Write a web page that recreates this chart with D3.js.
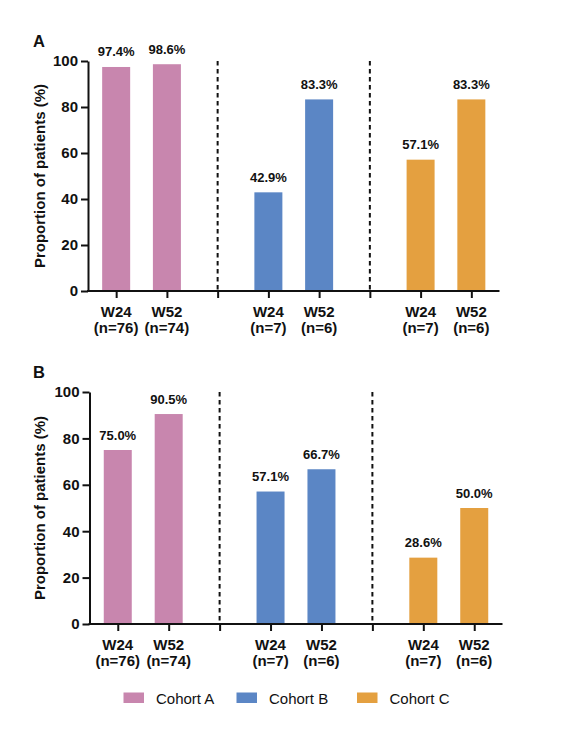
<!DOCTYPE html>
<html><head><meta charset="utf-8">
<script src="https://cdn.jsdelivr.net/npm/d3@7"></script>
<style>
body{margin:0;background:#fff;}
svg{display:block;font-family:"Liberation Sans",Arial,sans-serif;}
</style></head>
<body><svg id="c" width="567" height="737"></svg>
<script>
const cohorts = ["Cohort A","Cohort B","Cohort C"];
const colors = ["#C886AE","#5B86C5","#E4A040"];
const slots = ["A-W24","A-W52","sep1","B-W24","B-W52","sep2","C-W24","C-W52"];
const barSlots = ["A-W24","A-W52","B-W24","B-W52","C-W24","C-W52"];
const barCohort = [0,0,1,1,2,2];
const weekLabels = ["W24","W52","W24","W52","W24","W52"];
const nLabels = ["(n=76)","(n=74)","(n=7)","(n=6)","(n=7)","(n=6)"];
const panelAValues = [97.4, 98.6, 42.9, 83.3, 57.1, 83.3];
const panelBValues = [75.0, 90.5, 57.1, 66.7, 28.6, 50.0];
const yTicks = [0,20,40,60,80,100];

const svg = d3.select("#c");

function panel(letter, values, x0, x1, yTop, yBot){
  const g = svg.append("g");
  const x = d3.scalePoint().domain(slots).range([x0,x1]).padding(0.555);
  const y = d3.scaleLinear().domain([0,100]).range([yBot,yTop]);
  const bw = 28;
  // bars
  g.selectAll("rect.bar").data(values).enter().append("rect")
    .attr("x",(d,i)=>x(barSlots[i])-bw/2)
    .attr("width",bw)
    .attr("y",d=>y(d))
    .attr("height",d=>y(0)-y(d))
    .attr("fill",(d,i)=>colors[barCohort[i]]);
  // value labels
  g.selectAll("text.val").data(values).enter().append("text")
    .attr("x",(d,i)=>x(barSlots[i]))
    .attr("y",d=>y(d)-10.5)
    .attr("text-anchor","middle")
    .attr("font-size",13).attr("font-weight","bold").attr("fill","#111")
    .text(d=>d.toFixed(1)+"%");
  // separators
  ["sep1","sep2"].forEach(s=>{
    g.append("line").attr("x1",x(s)).attr("x2",x(s))
      .attr("y1",y(100)).attr("y2",y(0))
      .attr("stroke","#111").attr("stroke-width",2).attr("stroke-dasharray","4.5,3.5");
  });
  // y axis
  const ya = g.append("g").attr("transform",`translate(${x0},0)`)
    .call(d3.axisLeft(y).tickValues(yTicks).tickSize(7).tickSizeOuter(0).tickPadding(3));
  ya.select(".domain").attr("stroke","#111").attr("stroke-width",2);
  ya.selectAll(".tick line").attr("stroke","#111").attr("stroke-width",2);
  ya.selectAll(".tick text").attr("font-size",15).attr("font-weight","bold").attr("fill","#111")
    .attr("font-family","'Liberation Sans',Arial,sans-serif");
  // x axis
  const xa = g.append("g").attr("transform",`translate(0,${yBot})`)
    .call(d3.axisBottom(x).tickSize(7).tickSizeOuter(0).tickFormat(""));
  xa.select(".domain").attr("stroke","#111").attr("stroke-width",2)
    .attr("d",`M${x0-1},0H${x1}`);
  xa.selectAll(".tick line").attr("stroke","#111").attr("stroke-width",2);
  // x labels
  g.selectAll("text.wk").data(weekLabels).enter().append("text")
    .attr("x",(d,i)=>x(barSlots[i])).attr("y",yBot+25.5)
    .attr("text-anchor","middle").attr("font-size",15).attr("font-weight","bold").attr("fill","#111")
    .text(d=>d);
  g.selectAll("text.nn").data(nLabels).enter().append("text")
    .attr("x",(d,i)=>x(barSlots[i])).attr("y",yBot+41.5)
    .attr("text-anchor","middle").attr("font-size",15).attr("font-weight","bold").attr("fill","#111")
    .text(d=>d);
  // y title
  g.append("text").attr("transform",`translate(45,${(yTop+yBot)/2}) rotate(-90)`)
    .attr("text-anchor","middle").attr("font-size",15).attr("font-weight","bold").attr("fill","#111")
    .text("Proportion of patients (%)");
  // panel letter
  g.append("text").attr("x",33).attr("y",yTop-14).attr("font-size",16.5).attr("font-weight","bold").attr("fill","#111")
    .text(letter);
}

panel("A", panelAValues, 88, 499.5, 61, 291);
panel("B", panelBValues, 89.5, 502.5, 392, 624);

// legend
const lg = svg.append("g");
const legX = [123.5, 236.5, 357];
cohorts.forEach((c,i)=>{
  lg.append("rect").attr("x",legX[i]).attr("y",692.5).attr("width",20.5).attr("height",10.5).attr("fill",colors[i]);
  lg.append("text").attr("x",legX[i]+32.5).attr("y",703.5).attr("font-size",15).attr("fill","#111").text(c);
});
</script></body></html>
